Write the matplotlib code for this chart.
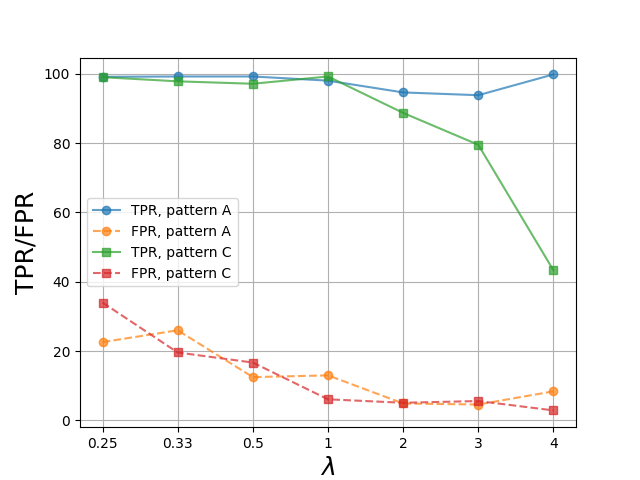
import matplotlib
matplotlib.use("Agg")
import matplotlib.pyplot as plt

lambdas = ["0.25", "0.33", "0.5", "1", "2", "3", "4"]
tpr_a = [99.1, 99.2, 99.2, 98.0, 94.6, 93.8, 99.8]
fpr_a = [22.6, 26.0, 12.5, 13.0, 4.9, 4.6, 8.4]
tpr_c = [99.0, 97.8, 97.1, 99.2, 88.7, 79.5, 43.3]
fpr_c = [34.0, 19.6, 16.7, 6.1, 5.1, 5.6, 2.9]

x = list(range(len(lambdas)))
fig, ax = plt.subplots(figsize=(6.4, 4.8), dpi=100)
ax.plot(x, tpr_a, '-o', color='C0', alpha=0.7, label='TPR, pattern A')
ax.plot(x, fpr_a, '--o', color='C1', alpha=0.7, label='FPR, pattern A')
ax.plot(x, tpr_c, '-s', color='C2', alpha=0.7, label='TPR, pattern C')
ax.plot(x, fpr_c, '--s', color='C3', alpha=0.7, label='FPR, pattern C')
ax.set_xticks(x)
ax.set_xticklabels(lambdas)
ax.set_xlabel(r'$\lambda$', fontsize=18)
ax.set_ylabel('TPR/FPR', fontsize=18)
ax.grid(True)
ax.legend(loc='center left')
fig.savefig('out.png')
